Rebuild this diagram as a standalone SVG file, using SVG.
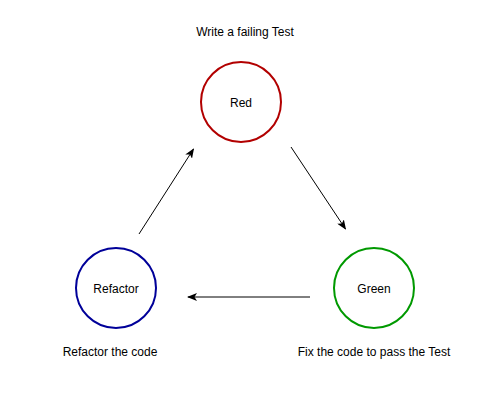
<svg xmlns="http://www.w3.org/2000/svg" width="500" height="400" viewBox="0 0 500 400">
<style>
text{font-family:"Liberation Sans",Arial,sans-serif;font-size:12px;fill:#000;text-anchor:middle;dominant-baseline:central}
.n{fill:#fff;stroke-width:2}
.c{stroke:#000;stroke-width:1;fill:none;marker-end:url(#a)}
</style>
<defs>
<marker id="a" viewBox="0 0 10 8" refX="9" refY="4" markerWidth="10" markerHeight="8" markerUnits="userSpaceOnUse" orient="auto">
<path d="M0,0 L10,4 L0,8 L2.5,4 Z" fill="#000"/>
</marker>
</defs>
<rect width="500" height="400" fill="#fff"/>
<g id="connectors">
<line class="c" x1="291" y1="147" x2="345.5" y2="229"/>
<line class="c" x1="310" y1="297" x2="188" y2="297"/>
<line class="c" x1="139" y1="234" x2="193.5" y2="149"/>
</g>
<g id="red">
<circle class="n" cx="241" cy="102" r="40" stroke="#B20000"/>
<text x="241" y="103">Red</text>
</g>
<g id="green">
<circle class="n" cx="374" cy="288" r="40" stroke="#009900"/>
<text x="374" y="289">Green</text>
</g>
<g id="refactor">
<circle class="n" cx="116" cy="288" r="40" stroke="#000099"/>
<text x="116" y="289">Refactor</text>
</g>
<g id="labels">
<text x="245" y="32">Write a failing Test</text>
<text x="374" y="352">Fix the code to pass the Test</text>
<text x="110" y="352">Refactor the code</text>
</g>
</svg>
